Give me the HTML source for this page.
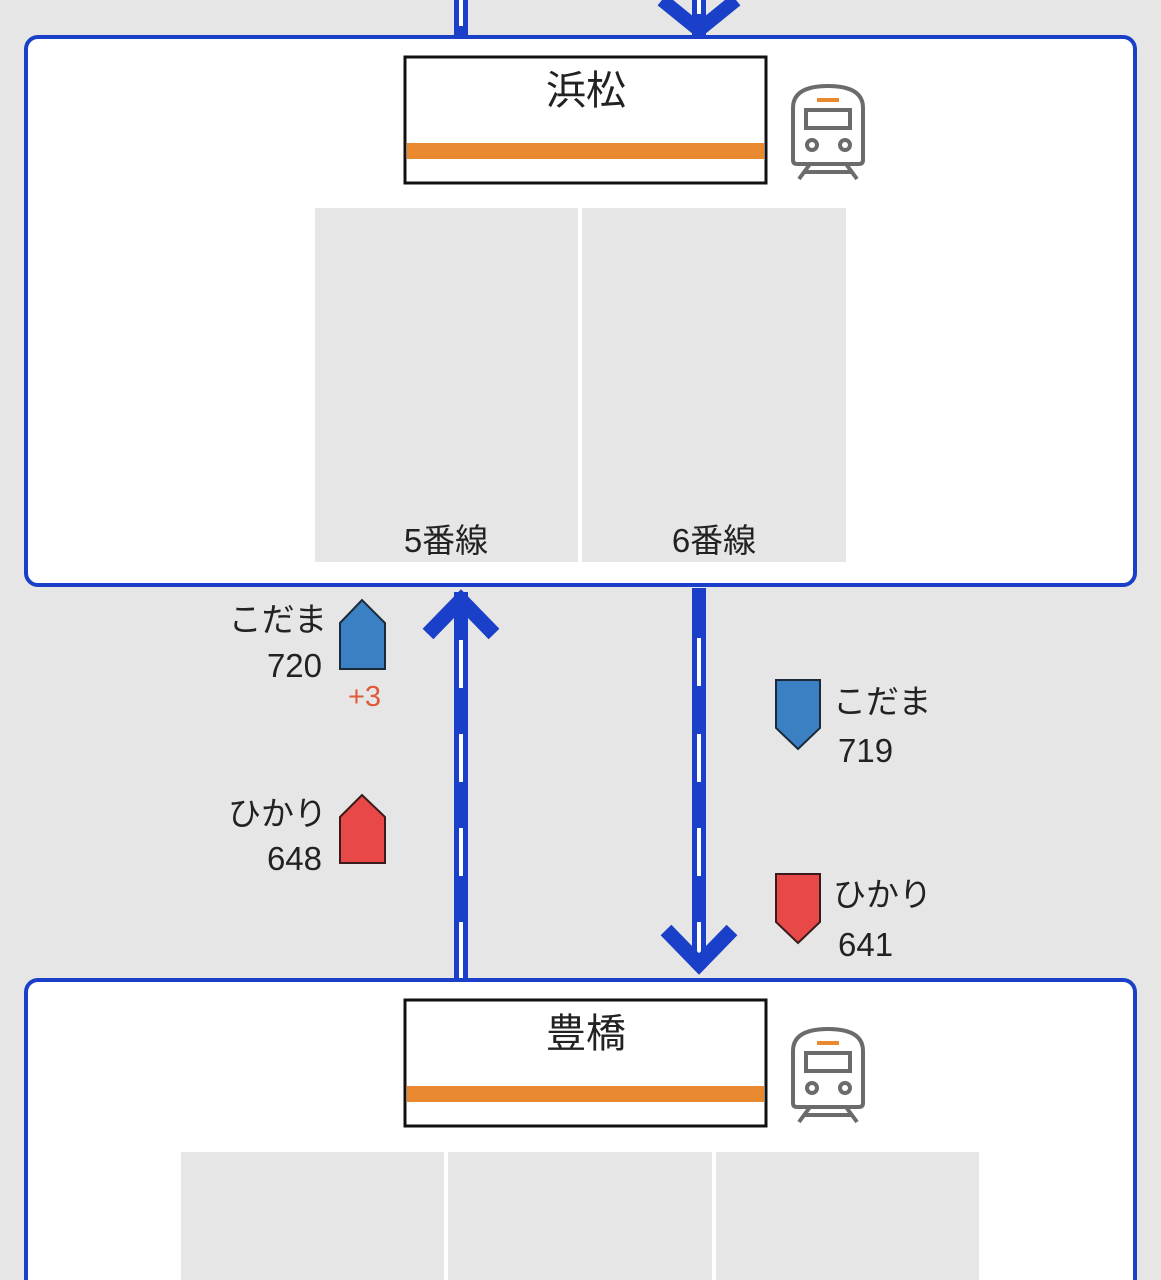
<!DOCTYPE html>
<html><head><meta charset="utf-8"><style>
html,body{margin:0;padding:0;background:#e6e6e6;}
svg{display:block;}
text{font-family:"Liberation Sans","Noto Sans CJK JP",sans-serif;}
</style></head><body>
<svg width="1161" height="1280" viewBox="0 0 1161 1280" xmlns="http://www.w3.org/2000/svg">
<defs>
<g id="train" fill="none" stroke="#6b6b6b" stroke-width="4">
  <path d="M793 160 L793 108 Q793 86 828 86 Q863 86 863 108 L863 160 Q863 164 859 164 L797 164 Q793 164 793 160 Z"/>
  <rect x="806" y="110" width="44" height="18"/>
  <circle cx="812" cy="145" r="5"/>
  <circle cx="845" cy="145" r="5"/>
  <path d="M810 164 L799 179 M846 164 L857 179 M805 172 L851 172"/>
  <path d="M817 100 L839 100" stroke="#e8892f"/>
</g>
</defs>
<rect width="1161" height="1280" fill="#e6e6e6"/>

<rect x="454" y="0" width="14" height="36" fill="#1a3fc8"/>
<rect x="459" y="0" width="4" height="26" fill="#fff"/>
<rect x="692" y="0" width="14" height="36" fill="#1a3fc8"/>
<rect x="697" y="0" width="4" height="14" fill="#fff"/>
<path d="M662 0 L699 30 L736 0" fill="none" stroke="#1a3fc8" stroke-width="14"/>

<rect x="26" y="37" width="1109" height="548" rx="12" fill="#fff" stroke="#1a3fc8" stroke-width="4"/>
<rect x="405" y="57" width="361" height="126" fill="#fff" stroke="#111" stroke-width="3"/>
<rect x="407" y="143" width="357" height="16" fill="#e8892f"/>
<text x="586" y="104" font-size="40" text-anchor="middle" fill="#222">浜松</text>
<use href="#train"/>
<rect x="315" y="208" width="263" height="354" fill="#e6e6e6"/>
<rect x="582" y="208" width="264" height="354" fill="#e6e6e6"/>
<text x="446" y="552" font-size="33" text-anchor="middle" fill="#222">5番線</text>
<text x="714" y="552" font-size="33" text-anchor="middle" fill="#222">6番線</text>

<rect x="454" y="592" width="14" height="387" fill="#1a3fc8"/>
<g fill="#fff">
<rect x="459" y="640" width="4" height="48"/><rect x="459" y="734" width="4" height="48"/>
<rect x="459" y="828" width="4" height="48"/><rect x="459" y="922" width="4" height="56"/>
</g>
<path d="M428 634 L461 600 L494 634" fill="none" stroke="#1a3fc8" stroke-width="15" stroke-linecap="butt"/>
<rect x="692" y="588" width="14" height="380" fill="#1a3fc8"/>
<g fill="#fff">
<rect x="697" y="638" width="4" height="48"/><rect x="697" y="734" width="4" height="48"/>
<rect x="697" y="828" width="4" height="48"/><rect x="697" y="922" width="4" height="40"/>
</g>
<path d="M666 930 L699 964 L732 930" fill="none" stroke="#1a3fc8" stroke-width="15"/>

<path d="M340 623 L362 600 L385 623 L385 669 L340 669 Z" fill="#3a80c2" stroke="#1b2a3a" stroke-width="2"/>
<path d="M340 817 L362 795 L385 817 L385 863 L340 863 Z" fill="#e84848" stroke="#3a1a1a" stroke-width="2"/>
<path d="M776 680 L820 680 L820 728 L798 749 L776 728 Z" fill="#3a80c2" stroke="#1b2a3a" stroke-width="2"/>
<path d="M776 874 L820 874 L820 922 L798 943 L776 922 Z" fill="#e84848" stroke="#3a1a1a" stroke-width="2"/>

<g font-size="33" fill="#222">
<text x="327" y="631" text-anchor="end">こだま</text>
<text x="322" y="677" text-anchor="end">720</text>
<text x="327" y="825" text-anchor="end">ひかり</text>
<text x="322" y="870" text-anchor="end">648</text>
<text x="833" y="713">こだま</text>
<text x="838" y="762">719</text>
<text x="833" y="906">ひかり</text>
<text x="838" y="956">641</text>
</g>
<text x="348" y="706" font-size="29" fill="#e05a3a">+3</text>

<rect x="26" y="980" width="1109" height="340" rx="12" fill="#fff" stroke="#1a3fc8" stroke-width="4"/>
<rect x="405" y="1000" width="361" height="126" fill="#fff" stroke="#111" stroke-width="3"/>
<rect x="407" y="1086" width="357" height="16" fill="#e8892f"/>
<text x="586" y="1047" font-size="40" text-anchor="middle" fill="#222">豊橋</text>
<use href="#train" transform="translate(0,943)"/>
<rect x="181" y="1152" width="263" height="130" fill="#e6e6e6"/>
<rect x="448" y="1152" width="264" height="130" fill="#e6e6e6"/>
<rect x="716" y="1152" width="263" height="130" fill="#e6e6e6"/>
</svg>
</body></html>
